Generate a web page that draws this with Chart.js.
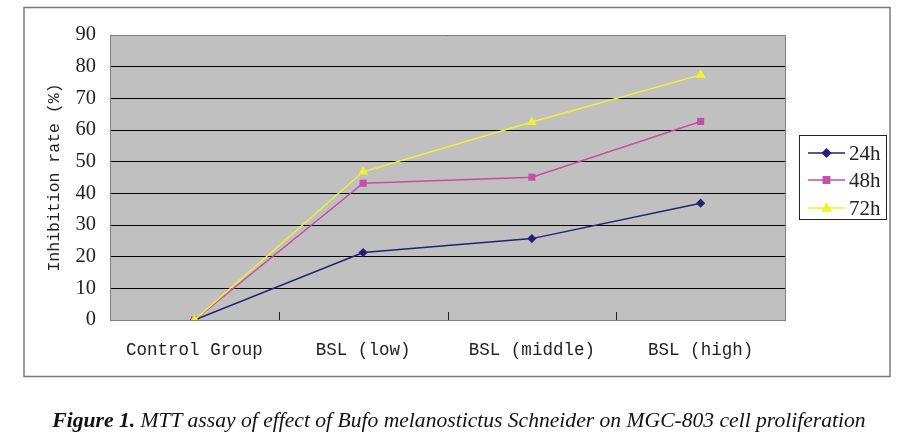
<!DOCTYPE html>
<html>
<head>
<meta charset="utf-8">
<script src="https://cdn.jsdelivr.net/npm/chart.js@4/dist/chart.umd.min.js"></script>
<style>
  html, body { margin: 0; padding: 0; background: #fff; }
  #wrap { position: relative; width: 900px; height: 447px; }
  canvas { position: absolute; left: 0; top: 0; }
  #caption { position: absolute; left: 9px; top: 408px; width: 900px; text-align: center;
    font-family: "Liberation Serif", serif; font-style: italic; font-size: 21.6px; color: #111; white-space: nowrap; }
  #caption b { font-weight: bold; }
</style>
</head>
<body>
<div id="wrap">
  <canvas id="c" width="900" height="447"></canvas>
  <div id="caption"><b>Figure 1.</b> MTT assay of effect of Bufo melanostictus Schneider on MGC-803 cell proliferation</div>
</div>
<script>
const categories = ["Control Group", "BSL (low)", "BSL (middle)", "BSL (high)"];
const seriesNames = ["24h", "48h", "72h"];
const values24h = [0, 21.3, 25.7, 36.9];
const values48h = [0, 43.2, 45.1, 62.7];
const values72h = [0, 46.8, 62.5, 77.4];
const yTicks = [0, 10, 20, 30, 40, 50, 60, 70, 80, 90];
const yTitle = "Inhibition rate (%)";

const colors = ["#1f2277", "#c54fa5", "#f2f22a"];
const styles = ["rectRot", "rect", "triangle"];
const radii = [4.6, 5, 5.6];

const frameAndLegend = {
  id: 'frameAndLegend',
  beforeDraw(chart) {
    const ctx = chart.ctx;
    const a = chart.chartArea;
    ctx.save();
    ctx.fillStyle = '#fff';
    ctx.fillRect(0, 0, chart.width, chart.height);
    ctx.strokeStyle = '#7a7a7a';
    ctx.lineWidth = 1.5;
    ctx.strokeRect(24, 7.5, 866, 369);
    ctx.fillStyle = '#c0c0c0';
    ctx.fillRect(a.left, a.top, a.right - a.left, a.bottom - a.top);
    ctx.restore();
  },
  afterDraw(chart) {
    const ctx = chart.ctx;
    const a = chart.chartArea;
    const xs = chart.scales.x;
    ctx.save();
    // plot border
    ctx.strokeStyle = '#808080';
    ctx.lineWidth = 1;
    ctx.beginPath();
    ctx.moveTo(a.left, a.top + 0.5);
    ctx.lineTo(a.right + 0.5, a.top + 0.5);
    ctx.lineTo(a.right + 0.5, a.bottom);
    ctx.stroke();
    // category boundary tick marks
    ctx.strokeStyle = '#222';
    for (let i = 0; i < categories.length - 1; i++) {
      const bx = Math.round((xs.getPixelForValue(i) + xs.getPixelForValue(i + 1)) / 2) + 0.5;
      ctx.beginPath();
      ctx.moveTo(bx, a.bottom);
      ctx.lineTo(bx, a.bottom - 8);
      ctx.stroke();
    }
    // legend
    const lx = 799, ly = 135, lw = 87, lh = 84;
    ctx.fillStyle = '#fff';
    ctx.fillRect(lx, ly, lw, lh);
    ctx.strokeStyle = '#222';
    ctx.lineWidth = 1;
    ctx.strokeRect(lx + 0.5, ly + 0.5, lw, lh);
    const rows = [153, 180, 208];
    const ordered = seriesNames.map(n => chart.data.datasets.find(d => d.label === n));
    ordered.forEach((ds, i) => {
      const y = rows[i];
      ctx.strokeStyle = ds.borderColor;
      ctx.lineWidth = 1.5;
      ctx.beginPath();
      ctx.moveTo(808, y);
      ctx.lineTo(845, y);
      ctx.stroke();
      const cx = 826.5, r = ds.pointRadius + 0.5;
      ctx.fillStyle = ds.pointBackgroundColor;
      ctx.beginPath();
      if (ds.pointStyle === 'rectRot') {
        ctx.moveTo(cx, y - r); ctx.lineTo(cx + r, y); ctx.lineTo(cx, y + r); ctx.lineTo(cx - r, y);
      } else if (ds.pointStyle === 'rect') {
        ctx.rect(cx - r * 0.72, y - r * 0.72, r * 1.44, r * 1.44);
      } else {
        ctx.moveTo(cx, y - r); ctx.lineTo(cx + r * 0.9, y + r * 0.6); ctx.lineTo(cx - r * 0.9, y + r * 0.6);
      }
      ctx.closePath();
      ctx.fill();
      ctx.fillStyle = '#222';
      ctx.font = '21px "Liberation Serif"';
      ctx.textBaseline = 'middle';
      ctx.textAlign = 'left';
      ctx.fillText(ds.label, 849, y + 1);
    });
    ctx.restore();
  }
};

const seriesValues = [values24h, values48h, values72h];
new Chart(document.getElementById('c'), {
  type: 'line',
  data: {
    labels: categories,
    datasets: seriesNames.map((name, i) => ({
      label: name,
      data: seriesValues[i],
      borderColor: colors[i],
      backgroundColor: colors[i],
      pointBackgroundColor: colors[i],
      pointBorderColor: colors[i],
      pointBorderWidth: 0,
      pointStyle: styles[i],
      pointRadius: radii[i],
      borderWidth: 1.5,
      tension: 0,
      fill: false
    })).reverse()
  },
  options: {
    responsive: false,
    animation: false,
    devicePixelRatio: 1,
    layout: { padding: { left: 0, top: 35, right: 115, bottom: 67 } },
    plugins: { legend: { display: false }, tooltip: { enabled: false } },
    scales: {
      x: {
        type: 'category',
        offset: true,
        grid: { display: false, drawTicks: false },
        border: { color: '#808080', width: 1 },
        ticks: { font: { family: 'Liberation Mono', size: 17.5 }, color: '#222', padding: 20, maxRotation: 0, autoSkip: false },
        afterFit: s => { s.height = 60; }
      },
      y: {
        min: 0, max: 90,
        afterBuildTicks: s => { s.ticks = yTicks.map(v => ({ value: v })); },
        ticks: { font: { family: 'Liberation Serif', size: 20.5 }, color: '#222', padding: 14 },
        grid: { color: '#000', lineWidth: 1, drawTicks: false },
        border: { color: '#808080', width: 1 },
        title: { display: true, text: yTitle, font: { family: 'Liberation Mono', size: 16.5 }, color: '#222', padding: { top: 45, bottom: 0 } },
        afterFit: s => { s.width = 110; }
      }
    }
  },
  plugins: [frameAndLegend]
});
</script>
</body>
</html>
